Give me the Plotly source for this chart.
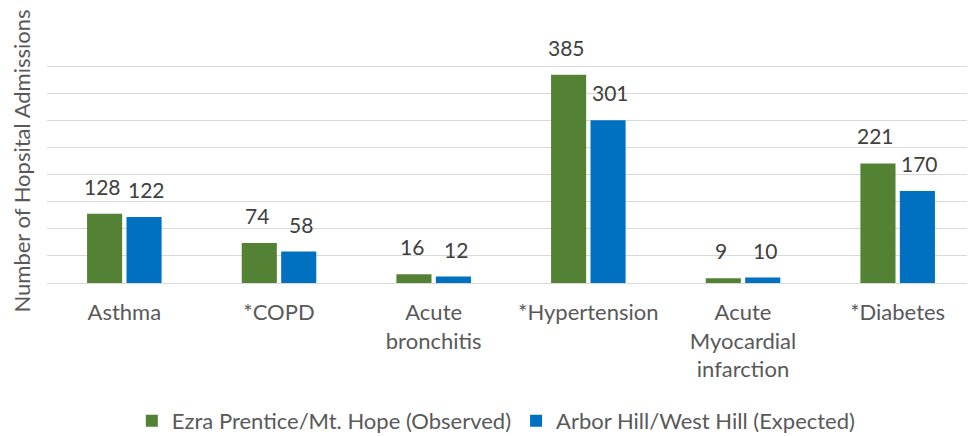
import plotly.graph_objects as go

categories = ["Asthma", "*COPD", "Acute<br>bronchitis", "*Hypertension",
              "Acute<br>Myocardial<br>infarction", "*Diabetes"]
observed = [128, 74, 16, 385, 9, 221]
expected = [122, 58, 12, 301, 10, 170]
series_names = ["Ezra Prentice/Mt. Hope (Observed)", "Arbor Hill/West Hill (Expected)"]

GREEN = "#548235"
BLUE = "#0070C0"
TEXT = "#404040"
LABEL = "#595959"
FONT = "Lato"

fig = go.Figure()
for name, vals, color in [(series_names[0], observed, GREEN), (series_names[1], expected, BLUE)]:
    fig.add_trace(go.Bar(x=categories, y=vals, name=name, marker=dict(color=color, line=dict(width=0))))

# data labels above each bar, shifted to sit over its own bar in the group
for cat, o, e in zip(categories, observed, expected):
    for val, shift in [(o, -22), (e, 22)]:
        fig.add_annotation(x=cat, y=val, text=str(val), showarrow=False, yanchor="bottom",
                           xshift=shift, yshift=13, font=dict(family=FONT, size=21, color=TEXT))

# page body adds an 8px margin, so the figure is drawn 8px smaller
fig.update_layout(
    width=967, height=428,
    margin=dict(l=39, r=0, t=31, b=153),
    plot_bgcolor="white", paper_bgcolor="white",
    barmode="group", bargap=0.49, bargroupgap=0.11,
    font=dict(family=FONT, size=22, color=LABEL),
    showlegend=True,
    legend=dict(orientation="h", xref="container", yref="container",
                x=0.505, xanchor="center", y=0.035, yanchor="middle",
                font=dict(family=FONT, size=22, color=LABEL), itemwidth=30),
    xaxis=dict(showline=False, ticks="", tickfont=dict(size=22, color=LABEL), ticklabelstandoff=14),
    yaxis=dict(range=[0, 451], tick0=0, dtick=50, showticklabels=False, automargin=False,
               gridcolor="#D9D9D9", gridwidth=1.3,
               zeroline=True, zerolinecolor="#D9D9D9", zerolinewidth=1.3,
               title=dict(text="Number of Hopsital Admissions",
                          font=dict(family=FONT, size=22, color=LABEL))),
)

fig.write_html("out.html")
